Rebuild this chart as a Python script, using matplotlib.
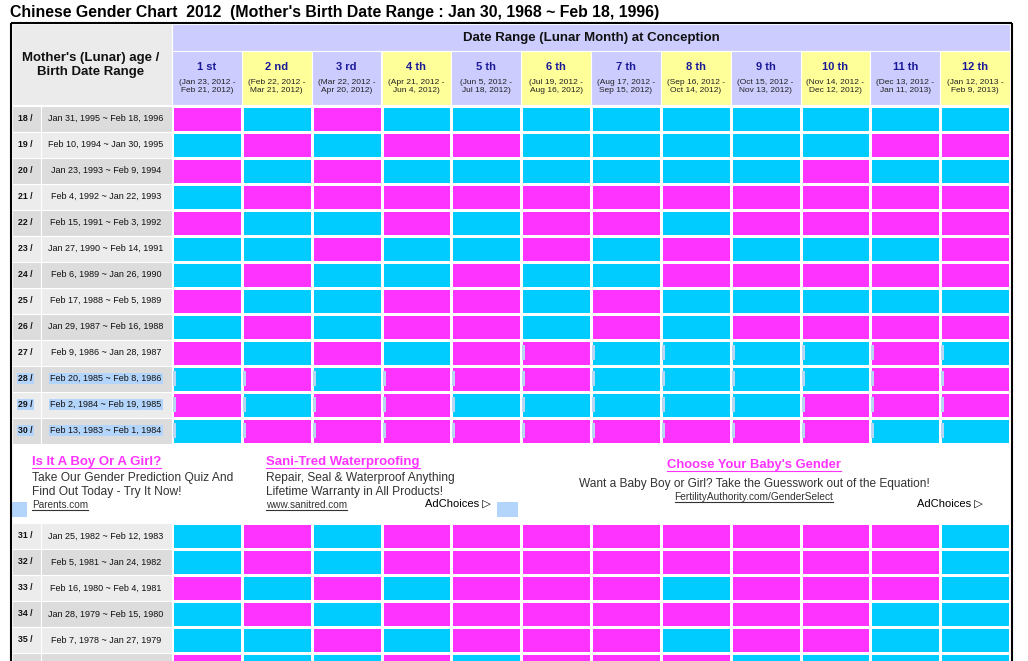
import numpy as np
import matplotlib
matplotlib.use("Agg")
import matplotlib.pyplot as plt
from matplotlib.colors import ListedColormap
from matplotlib.patches import Rectangle

# ---------------- data ----------------
title = "Chinese Gender Chart  2012  (Mother's Birth Date Range : Jan 30, 1968 ~ Feb 18, 1996)"
header_left = "Mother's (Lunar) age /\nBirth Date Range"
header_top = "Date Range (Lunar Month) at Conception"

months = ["1 st", "2 nd", "3 rd", "4 th", "5 th", "6 th",
          "7 th", "8 th", "9 th", "10 th", "11 th", "12 th"]
month_ranges = ["(Jan 23, 2012 -\nFeb 21, 2012)", "(Feb 22, 2012 -\nMar 21, 2012)",
                "(Mar 22, 2012 -\nApr 20, 2012)", "(Apr 21, 2012 -\nJun 4, 2012)",
                "(Jun 5, 2012 -\nJul 18, 2012)", "(Jul 19, 2012 -\nAug 16, 2012)",
                "(Aug 17, 2012 -\nSep 15, 2012)", "(Sep 16, 2012 -\nOct 14, 2012)",
                "(Oct 15, 2012 -\nNov 13, 2012)", "(Nov 14, 2012 -\nDec 12, 2012)",
                "(Dec 13, 2012 -\nJan 11, 2013)", "(Jan 12, 2013 -\nFeb 9, 2013)"]

ages_top = [18, 19, 20, 21, 22, 23, 24, 25, 26, 27, 28, 29, 30]
dates_top = ["Jan 31, 1995 ~ Feb 18, 1996", "Feb 10, 1994 ~ Jan 30, 1995",
             "Jan 23, 1993 ~ Feb 9, 1994", "Feb 4, 1992 ~ Jan 22, 1993",
             "Feb 15, 1991 ~ Feb 3, 1992", "Jan 27, 1990 ~ Feb 14, 1991",
             "Feb 6, 1989 ~ Jan 26, 1990", "Feb 17, 1988 ~ Feb 5, 1989",
             "Jan 29, 1987 ~ Feb 16, 1988", "Feb 9, 1986 ~ Jan 28, 1987",
             "Feb 20, 1985 ~ Feb 8, 1986", "Feb 2, 1984 ~ Feb 19, 1985",
             "Feb 13, 1983 ~ Feb 1, 1984"]
# 1 = girl (pink), 0 = boy (blue)
chart_top = [
    [1, 0, 1, 0, 0, 0, 0, 0, 0, 0, 0, 0],
    [0, 1, 0, 1, 1, 0, 0, 0, 0, 0, 1, 1],
    [1, 0, 1, 0, 0, 0, 0, 0, 0, 1, 0, 0],
    [0, 1, 1, 1, 1, 1, 1, 1, 1, 1, 1, 1],
    [1, 0, 0, 1, 0, 1, 1, 0, 1, 1, 1, 1],
    [0, 0, 1, 0, 0, 1, 0, 1, 0, 0, 0, 1],
    [0, 1, 0, 0, 1, 0, 0, 1, 1, 1, 1, 1],
    [1, 0, 0, 1, 1, 0, 1, 0, 0, 0, 0, 0],
    [0, 1, 0, 1, 1, 0, 1, 0, 1, 1, 1, 1],
    [1, 0, 1, 0, 1, 1, 0, 0, 0, 0, 1, 0],
    [0, 1, 0, 1, 1, 1, 0, 0, 0, 0, 1, 1],
    [1, 0, 1, 1, 0, 0, 0, 0, 0, 1, 1, 1],
    [0, 1, 1, 1, 1, 1, 1, 1, 1, 1, 0, 0],
]

ages_bottom = [31, 32, 33, 34, 35, 36]
dates_bottom = ["Jan 25, 1982 ~ Feb 12, 1983", "Feb 5, 1981 ~ Jan 24, 1982",
                "Feb 16, 1980 ~ Feb 4, 1981", "Jan 28, 1979 ~ Feb 15, 1980",
                "Feb 7, 1978 ~ Jan 27, 1979", "Feb 18, 1977 ~ Feb 6, 1978"]
chart_bottom = [
    [0, 1, 0, 1, 1, 1, 1, 1, 1, 1, 1, 0],
    [0, 1, 0, 1, 1, 1, 1, 1, 1, 1, 1, 0],
    [1, 0, 1, 0, 1, 1, 1, 0, 1, 1, 1, 0],
    [0, 1, 0, 1, 1, 1, 1, 1, 1, 1, 0, 0],
    [0, 0, 1, 0, 1, 1, 1, 0, 1, 1, 0, 0],
    [1, 0, 0, 1, 0, 1, 1, 1, 0, 0, 0, 0],
]

ad1_title = "Is It A Boy Or A Girl?"
ad1_body = ["Take Our Gender Prediction Quiz And", "Find Out Today - Try It Now!"]
ad1_url = "Parents.com"
ad2_title = "Sani-Tred Waterproofing"
ad2_body = ["Repair, Seal & Waterproof Anything", "Lifetime Warranty in All Products!"]
ad2_url = "www.sanitred.com"
ad3_title = "Choose Your Baby's Gender"
ad3_body = "Want a Baby Boy or Girl? Take the Guesswork out of the Equation!"
ad3_url = "FertilityAuthority.com/GenderSelect"
adchoices = "AdChoices \u25B7"

# ---------------- style ----------------
PINK = "#ff33ff"
BLUE = "#00ccff"
LAV = "#ccccff"
YEL = "#ffff99"
NAVY = "#1a1a99"
SEL = "#b4d5fb"
FONT = ["Liberation Sans", "DejaVu Sans"]
plt.rcParams["font.family"] = FONT

W, H = 1028, 661
fig = plt.figure(figsize=(W / 100, H / 100), dpi=100)
ax = fig.add_axes([0, 0, 1, 1])
ax.set_xlim(0, W)
ax.set_ylim(H, 0)
ax.axis("off")

X0, X1 = 172, 1010
col_edges = np.linspace(X0, X1, len(months) + 1)
col_w = col_edges[1] - col_edges[0]
ROW_H = 26
TOP_Y0 = 105.5
BOT_Y0 = 523

# title
ax.text(10, 13, title, fontsize=11.4, fontweight="bold", va="center", ha="left", color="black")

# header blocks
ax.add_patch(Rectangle((12, 24), X0 - 12, 81, facecolor="#ebebeb", edgecolor="white", lw=0.8))
ax.text(91, 65, header_left, fontsize=9.5, fontweight="bold", ha="center", va="center",
        linespacing=1.2, color="#111111")
ax.add_patch(Rectangle((X0, 24), X1 - X0, 26.5, facecolor=LAV, edgecolor="white", lw=0.8))
ax.text((X0 + X1) / 2, 37.5, header_top, fontsize=9.5, fontweight="bold", ha="center",
        va="center", color="#111111")
for i, (m, r) in enumerate(zip(months, month_ranges)):
    x = col_edges[i]
    ax.add_patch(Rectangle((x, 50.5), col_w, 54.5, facecolor=LAV if i % 2 == 0 else YEL,
                           edgecolor="white", lw=0.8))
    ax.text(x + col_w / 2, 67, m, fontsize=8.0, fontweight="bold", color=NAVY,
            ha="center", va="center")
    ax.text(x + col_w / 2, 86.5, r, fontsize=6.0, color="#222222", ha="center",
            va="center", linespacing=1.4)

cmap = ListedColormap([BLUE, PINK])


def draw_block(y0, ages, dates, chart, selected):
    n = len(ages)
    row_edges = y0 + ROW_H * np.arange(n + 1)
    ax.pcolormesh(col_edges, row_edges, np.array(chart), cmap=cmap, vmin=0, vmax=1,
                  edgecolors="white", linewidth=1.0)
    for j, (a, d) in enumerate(zip(ages, dates)):
        yt = row_edges[j]
        shade = "#dcdcdc" if (a % 2 == 0) else "#ececec"
        ax.add_patch(Rectangle((12, yt), 28.5, ROW_H, facecolor=shade, edgecolor="white", lw=0.8))
        ax.add_patch(Rectangle((40.5, yt), X0 - 40.5, ROW_H, facecolor=shade,
                               edgecolor="white", lw=0.8))
        if yt + ROW_H / 2 > H:
            continue  # label row lies below the visible page
        bb = dict(facecolor=SEL, edgecolor="none", pad=1.0) if a in selected else None
        ax.text(25.5, yt + ROW_H / 2, f"{a} /", fontsize=6.3, fontweight="bold",
                ha="center", va="center", color="#111111", bbox=bb)
        ax.text(106, yt + ROW_H / 2, d, fontsize=6.5, ha="center", va="center",
                color="#111111", bbox=bb)
    return row_edges


rows_top = draw_block(TOP_Y0, ages_top, dates_top, chart_top, selected=(28, 29, 30))
draw_block(BOT_Y0, ages_bottom, dates_bottom, chart_bottom, selected=())

# selection marks at cell edges (rows 27-30)
for j, a in enumerate(ages_top):
    if a < 27:
        continue
    start = 5 if a == 27 else 0
    for i in range(start, len(months)):
        ax.add_patch(Rectangle((col_edges[i] + 1, rows_top[j] + 5), 3, ROW_H - 11,
                               facecolor="#b9d6f2", edgecolor="none"))

# ads area
ax.add_patch(Rectangle((12, 502), 15, 15, facecolor=SEL, edgecolor="none"))
ax.add_patch(Rectangle((497, 502), 21, 15, facecolor=SEL, edgecolor="none"))

underline = []
t = ax.text(32, 462, ad1_title, fontsize=9.5, fontweight="bold", color=PINK, va="center")
underline.append((t, PINK))
for k, line in enumerate(ad1_body):
    ax.text(32, 477.5 + 14 * k, line, fontsize=8.65, color="#333333", va="center")
t = ax.text(32, 505, ad1_url, fontsize=7.2, color="#333333", va="center")
underline.append((t, "#333333"))

t = ax.text(266, 462, ad2_title, fontsize=9.5, fontweight="bold", color=PINK, va="center")
underline.append((t, PINK))
for k, line in enumerate(ad2_body):
    ax.text(266, 477.5 + 14 * k, line, fontsize=8.65, color="#333333", va="center")
t = ax.text(266, 505, ad2_url, fontsize=7.2, color="#333333", va="center")
underline.append((t, "#333333"))

ax.text(425, 504, adchoices, fontsize=8.0, color="black", va="center")
ax.text(917, 504, adchoices, fontsize=8.0, color="black", va="center")

t = ax.text(754, 465, ad3_title, fontsize=9.4, fontweight="bold", color=PINK, va="center",
            ha="center")
underline.append((t, PINK))
ax.text(754, 483.5, ad3_body, fontsize=8.6, color="#333333", va="center", ha="center")
t = ax.text(754, 497, ad3_url, fontsize=7.25, color="#333333", va="center", ha="center")
underline.append((t, "#333333"))

# black border
ax.plot([11, 11], [23, H], color="black", lw=1.5, solid_capstyle="butt")
ax.plot([11, 1011.5], [23, 23], color="black", lw=1.5, solid_capstyle="butt")
ax.plot([1011.5, 1011.5], [23, H], color="black", lw=1.5, solid_capstyle="butt")

fig.canvas.draw()
renderer = fig.canvas.get_renderer()
inv = ax.transData.inverted()
for t, c in underline:
    bb = t.get_window_extent(renderer)
    (xa, ya), (xb, yb) = inv.transform([[bb.x0, bb.y0], [bb.x1, bb.y1]])
    ax.plot([xa, xb], [ya - 0.5, ya - 0.5], color=c, lw=0.8)

fig.savefig("out.png", dpi=100)
